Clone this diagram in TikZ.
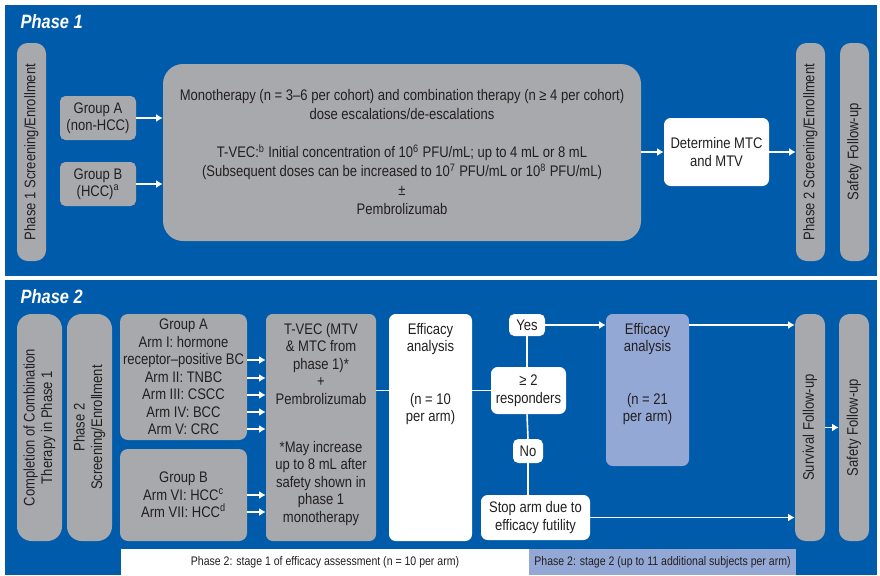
\documentclass[tikz,border=0pt]{standalone}
\usepackage{fontspec}
\setmainfont{Liberation Sans}[FakeStretch=0.85]
\usepackage{xcolor}
\usepackage{tikz}
\usetikzlibrary{arrows.meta,calc,positioning}
\definecolor{panelblue}{HTML}{005BAA}
\definecolor{boxgray}{HTML}{A7A9AC}
\definecolor{stagetwo}{HTML}{94A8D5}
\definecolor{inktext}{HTML}{231F20}
\tikzset{
  graybox/.style={fill=boxgray,rounded corners=4pt,align=center,text=inktext,inner sep=0pt},
  whitebox/.style={fill=white,rounded corners=4pt,align=center,text=inktext,inner sep=0pt},
  pill/.style={graybox,rotate=90,rounded corners=8pt,minimum width=163.5pt,minimum height=21.75pt},
  widepill/.style={graybox,rotate=90,rounded corners=11pt,minimum width=170.25pt,minimum height=33.75pt},
  boxtext/.style={anchor=north,align=center,text=inktext,inner sep=0pt},
  flow/.style={white,line width=1.2pt},
  flowarrow/.style={flow,-{Latex[length=5pt,width=6pt]}},
  phasetitle/.style={anchor=base west,white,font=\fontsize{14.5}{16}\selectfont\bfseries\itshape},
  stagebar/.style={text=inktext,minimum height=19.5pt,inner sep=0pt,font=\fontsize{9.3}{11}\selectfont},
}

\begin{document}
\begin{tikzpicture}[x=0.75pt,y=-0.75pt,>=Latex,font=\fontsize{11.5}{13.1}\selectfont]
  \useasboundingbox[fill=white] (0,0) rectangle (880,575);
  \fill[panelblue] (5,5) rectangle (877,276);
  \fill[panelblue] (5,280) rectangle (877,575);

  % Phase 1
  \node[phasetitle] (title1) at (16,28) {Phase 1};
  \node[pill] (scr1) at (31.5,152) {Phase 1 Screening/Enrollment};
  \node[graybox,minimum width=57pt,minimum height=33pt] (grpA) at (98,118) {Group A\\(non-HCC)};
  \node[graybox,minimum width=57pt,minimum height=33pt] (grpB) at (98,184) {Group B\\(HCC)\textsuperscript{a}};
  \node[graybox,rounded corners=15pt,minimum width=358.5pt,minimum height=132.75pt,
        font=\fontsize{11.5}{14.25}\selectfont] (mono) at (402,152.5)
    {Monotherapy (n = 3–6 per cohort) and combination therapy (n ≥ 4 per cohort)\\
     dose escalations/de-escalations\\[14.25pt]
     T-VEC:\textsuperscript{b} Initial concentration of 10\textsuperscript{6} PFU/mL; up to 4 mL or 8 mL\\
     (Subsequent doses can be increased to 10\textsuperscript{7} PFU/mL or 10\textsuperscript{8} PFU/mL)\\
     ±\\
     Pembrolizumab};
  \node[whitebox,rounded corners=5pt,minimum width=78.75pt,minimum height=51pt] (mtc) at (716.5,152) {Determine MTC\\and MTV};
  \node[pill] (scr2) at (810.5,152) {Phase 2 Screening/Enrollment};
  \node[pill] (safe1) at (854.5,152) {Safety Follow-up};

  \draw[flowarrow] (grpA.east) -- (grpA.east -| mono.west);
  \draw[flowarrow] (grpB.east) -- (grpB.east -| mono.west);
  \draw[flowarrow] (mono.east |- mtc) -- (mtc.west);
  \draw[flowarrow] (mtc) -- (scr2);

  % Phase 2
  \node[phasetitle] (title2) at (16,303) {Phase 2};
  \node[widepill] (compl) at (39.5,427.5) {Completion of Combination\\Therapy in Phase 1};
  \node[widepill] (enrol) at (89.5,427.5) {Phase 2\\Screening/Enrollment};
  \node[graybox,rounded corners=6pt,minimum width=95.25pt,minimum height=94.5pt] (armsA) at (183.5,377)
    {Group A\\Arm I: hormone\\receptor–positive BC\\Arm II: TNBC\\Arm III: CSCC\\Arm IV: BCC\\Arm V: CRC};
  \node[graybox,rounded corners=6pt,minimum width=95.25pt,minimum height=69pt] (armsB) at (183.5,495)
    {Group B\\Arm VI: HCC\textsuperscript{c}\\Arm VII: HCC\textsuperscript{d}};
  \node[graybox,rounded corners=5pt,minimum width=82.5pt,minimum height=170.25pt] (tvec) at (321,427.5) {};
  \node[boxtext] (tvectext) at ([yshift=-7pt]tvec.north)
    {T-VEC (MTV\\\& MTC from\\phase 1)*\\+\\Pembrolizumab\\[22.9pt]*May increase\\up to 8 mL after\\safety shown in\\phase 1\\monotherapy};
  \node[whitebox,rounded corners=5pt,minimum width=62.25pt,minimum height=170.25pt] (eff1) at (430.5,427.5) {};
  \node[boxtext] (eff1text) at ([yshift=-7pt]eff1.north) {Efficacy\\analysis\\[26.2pt](n = 10\\per arm)};
  \node[whitebox,minimum width=27pt,minimum height=16.5pt] (yes) at (527,325) {Yes};
  \node[whitebox,rounded corners=5pt,minimum width=56.25pt,minimum height=35.25pt] (resp) at (528.5,390.5) {≥ 2\\responders};
  \node[whitebox,minimum width=22.5pt,minimum height=18pt] (no) at (528,451) {No};
  \node[whitebox,rounded corners=5pt,minimum width=81.75pt,minimum height=33.75pt] (stop) at (535.5,517.5) {Stop arm due to\\efficacy futility};
  \node[graybox,fill=stagetwo,rounded corners=5pt,minimum width=62.25pt,minimum height=114pt] (eff2) at (647.5,390) {};
  \node[boxtext] (eff2text) at ([yshift=-7pt]eff2.north) {Efficacy\\analysis\\[26.2pt](n = 21\\per arm)};
  \node[graybox,rotate=90,rounded corners=8pt,minimum width=170.25pt,minimum height=22.5pt] (surv) at (810,427.5) {Survival Follow-up};
  \node[graybox,rotate=90,rounded corners=8pt,minimum width=170.25pt,minimum height=22.5pt] (safe2) at (854,427.5) {Safety Follow-up};

  \foreach \y in {360,378,395,412,429} {\draw[flowarrow] (armsA.east |- 0,\y) -- (tvec.west |- 0,\y);}
  \foreach \y in {495,512} {\draw[flowarrow] (armsB.east |- 0,\y) -- (tvec.west |- 0,\y);}
  \draw[flow] (tvec.east |- resp) -- (eff1.west |- resp);
  \draw[flow] (eff1.east |- resp) -- (resp.west);
  \draw[flow] (yes.south) -- (yes.south |- resp.north);
  \draw[flow] (yes.south |- resp.south) -- (no.north);
  \draw[flow] (no.south) -- (no.south |- stop.north);
  \draw[flowarrow] (yes.east) -- (yes.east -| eff2.west);
  \draw[flowarrow] (eff2.east |- yes) -- (surv.north |- yes);
  \draw[flowarrow] (stop.east) -- (stop.east -| surv.north);
  \draw[flowarrow] (surv) -- (safe2);

  % stage legend
  \node[stagebar,fill=white,minimum width=306pt] (stage1) at (325,562) {Phase 2: stage 1 of efficacy assessment (n = 10 per arm)};
  \node[stagebar,fill=stagetwo,minimum width=200.25pt] (stage2) at (662.5,562) {Phase 2: stage 2 (up to 11 additional subjects per arm)};
\end{tikzpicture}
\end{document}
